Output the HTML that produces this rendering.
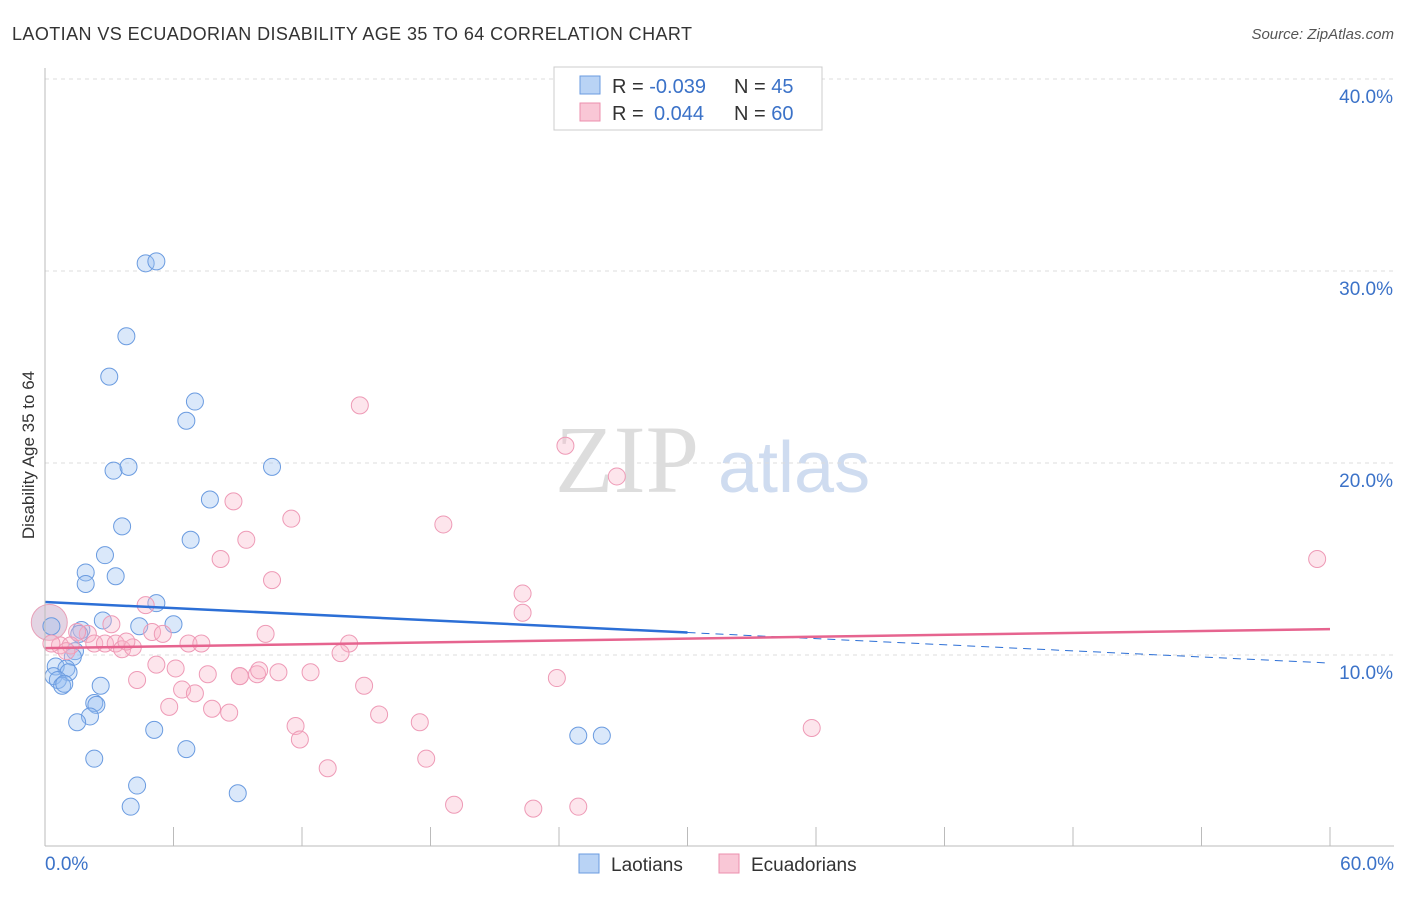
<!DOCTYPE html>
<html><head><meta charset="utf-8"><style>
body{margin:0;background:#fff;font-family:"Liberation Sans",sans-serif}
</style></head><body>
<svg width="1406" height="892" xmlns="http://www.w3.org/2000/svg" id="svg">
<text x="12" y="40" font-size="18" fill="#333" textLength="680">LAOTIAN VS ECUADORIAN DISABILITY AGE 35 TO 64 CORRELATION CHART</text>
<text x="1394" y="39" font-size="15" fill="#555" text-anchor="end" font-style="italic">Source: ZipAtlas.com</text>
<text x="34" y="455" font-size="17" fill="#333" text-anchor="middle" transform="rotate(-90 34 455)">Disability Age 35 to 64</text>
<text x="555" y="492" font-size="96" fill="#ddd" font-family="Liberation Serif">ZIP</text>
<text x="718" y="492" font-size="72" fill="#cfdcf0">atlas</text>
<g id="grid"></g><g id="pts"></g><g id="lines"></g>
<line x1="45" y1="68" x2="45" y2="846" stroke="#bbb"/>
<line x1="45" y1="846" x2="1394" y2="846" stroke="#bbb"/>
<text x="45" y="870" font-size="19" fill="#3b72c8">0.0%</text>
<text x="1394" y="870" font-size="19" fill="#3b72c8" text-anchor="end">60.0%</text>
<rect x="554" y="67" width="268" height="63" fill="#fff" stroke="#ccc"/>
<rect x="580" y="76" width="20" height="18" fill="#b9d3f5" stroke="#6a9be0"/>
<rect x="580" y="103" width="20" height="18" fill="#f9c7d6" stroke="#ec8fae"/>
<text x="612" y="93" font-size="20" fill="#333">R = <tspan fill="#3b72c8">-0.039</tspan><tspan x="734">N = </tspan><tspan fill="#3b72c8">45</tspan></text>
<text x="612" y="120" font-size="20" fill="#333">R = <tspan x="654" fill="#3b72c8">0.044</tspan><tspan x="734">N = </tspan><tspan fill="#3b72c8">60</tspan></text>
<rect x="579" y="854" width="20" height="19" fill="#b9d3f5" stroke="#6a9be0"/>
<text x="611" y="871" font-size="19" fill="#333">Laotians</text>
<rect x="719" y="854" width="20" height="19" fill="#f9c7d6" stroke="#ec8fae"/>
<text x="751" y="871" font-size="19" fill="#333">Ecuadorians</text>
</svg>
<script>
const yTicks=[10,20,30,40];
const xTicks=[0,6,12,18,24,30,36,42,48,54,60];
const laoX=[4.7,5.2,3.8,3.0,7.0,6.6,3.2,3.9,10.6,7.7,3.6,6.8,2.8,1.9,1.9,3.3,5.2,2.7,4.4,6.0,1.7,1.6,0.3,1.4,1.3,0.5,1.0,1.1,0.4,0.6,0.8,0.9,2.6,2.3,2.4,2.1,1.5,5.1,6.6,2.3,4.3,4.0,9.0,24.9,26.0];
const laoY=[30.4,30.5,26.6,24.5,23.2,22.2,19.6,19.8,19.8,18.1,16.7,16.0,15.2,14.3,13.7,14.1,12.7,11.8,11.5,11.6,11.3,11.1,11.5,10.2,9.9,9.4,9.3,9.1,8.9,8.7,8.4,8.5,8.4,7.5,7.4,6.8,6.5,6.1,5.1,4.6,3.2,2.1,2.8,5.8,5.8];
const ecuX=[14.7,24.3,26.7,8.8,11.5,18.6,9.4,8.2,10.6,59.4,22.3,22.3,4.7,5.0,5.5,10.3,14.2,13.8,6.7,7.3,2.0,1.5,0.7,2.3,2.8,3.3,3.6,4.1,3.1,5.2,6.1,7.6,9.1,9.9,10.0,10.9,12.4,4.3,6.4,7.0,14.9,23.9,5.8,7.8,8.6,15.6,17.5,11.7,11.9,35.8,17.8,13.2,19.1,22.8,24.9,0.3,1.2,9.1,3.8,1.0];
const ecuY=[23.0,20.9,19.3,18.0,17.1,16.8,16.0,15.0,13.9,15.0,13.2,12.2,12.6,11.2,11.1,11.1,10.6,10.1,10.6,10.6,11.1,11.2,10.5,10.6,10.6,10.6,10.3,10.4,11.6,9.5,9.3,9.0,8.9,9.0,9.2,9.1,9.1,8.7,8.2,8.0,8.4,8.8,7.3,7.2,7.0,6.9,6.5,6.3,5.6,6.2,4.6,4.1,2.2,2.0,2.1,10.6,10.5,8.9,10.7,10.2];
const laoTrend=[12.76,9.58], ecuTrend=[10.36,11.35];
const X=v=>45+v/60*1285, Y=v=>847-v*19.2;
const NS="http://www.w3.org/2000/svg";
function mk(t,a,p){const e=document.createElementNS(NS,t);for(const k in a)e.setAttribute(k,a[k]);document.getElementById(p).appendChild(e);return e;}
yTicks.forEach(t=>{
 const l=mk('line',{x1:45,x2:1394,y1:Y(t),y2:Y(t),stroke:'#ddd','stroke-dasharray':'4,4'},'grid');
 
 
 const s=mk('text',{x:1393,y:Y(t)+24,'font-size':19,fill:'#3b72c8','text-anchor':'end'},'grid');
 s.textContent=t.toFixed(1)+'%';
 
 
});
xTicks.forEach(t=>{
 const l=mk('line',{x1:X(t),x2:X(t),y1:827,y2:846,stroke:'#bbb'},'grid');
 
 
});
mk('circle',{cx:X(0.2),cy:Y(11.7),r:18,fill:'rgba(200,170,200,0.5)',stroke:'#e8a0b8'},'pts');
laoX.forEach((v,i)=>{
 const c=mk('circle',{cx:X(v),cy:Y(laoY[i]),r:8.5,fill:'rgba(150,190,240,0.35)',stroke:'#6a9be0','stroke-width':1},'pts');
 
 
});
ecuX.forEach((v,i)=>{
 const c=mk('circle',{cx:X(v),cy:Y(ecuY[i]),r:8.5,fill:'rgba(248,180,200,0.35)',stroke:'#ee9ab6','stroke-width':1},'pts');
 
 
});
const lt=v=>laoTrend[0]+(laoTrend[1]-laoTrend[0])*v/60;
let a=mk('line',{x1:X(0),y1:Y(lt(0)),x2:X(30),y2:Y(lt(30)),stroke:'#2c6fd6','stroke-width':2.5},'lines');


a=mk('line',{x1:X(30),y1:Y(lt(30)),x2:X(60),y2:Y(lt(60)),stroke:'#2c6fd6','stroke-width':1,'stroke-dasharray':'8,6'},'lines');


a=mk('line',{x1:X(0),y1:Y(ecuTrend[0]),x2:X(60),y2:Y(ecuTrend[1]),stroke:'#e6648f','stroke-width':2.5},'lines');


</script>
</body></html>
